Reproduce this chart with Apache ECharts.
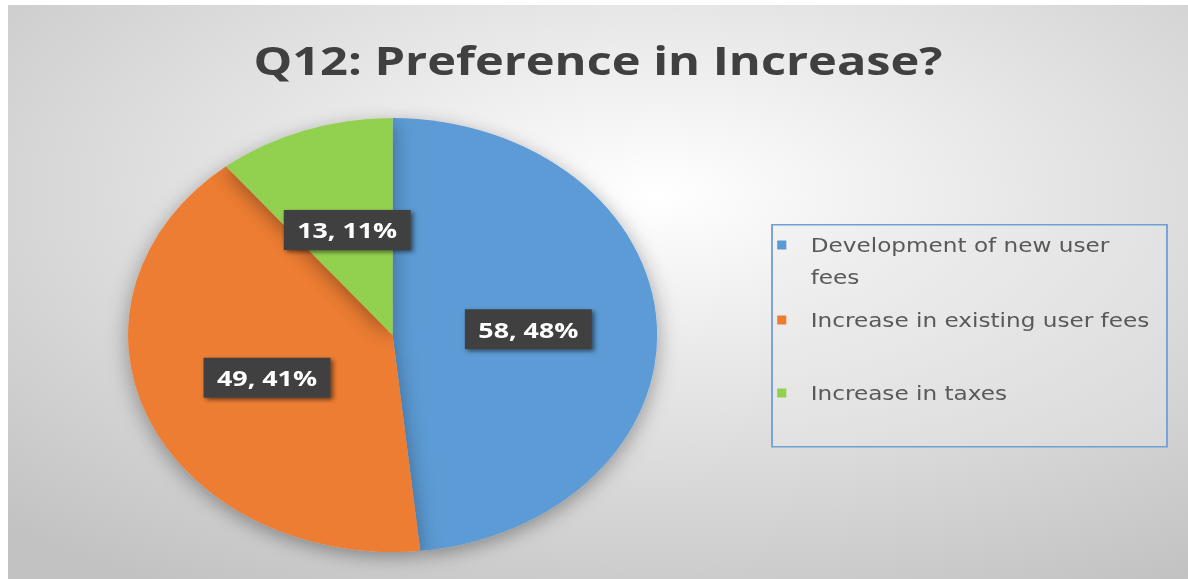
<!DOCTYPE html>
<html>
<head>
<meta charset="utf-8">
<script src="https://cdn.jsdelivr.net/npm/echarts@6/dist/echarts.min.js"></script>
<style>
  html, body { margin: 0; padding: 0; background: #fff; overflow: hidden; }
  body { width: 1188px; height: 579px; position: relative; }
  /* the reference picture is stretched sideways (pie is an ellipse), so draw
     at the natural width and stretch the whole chart with the same ratio */
  #chart {
    position: absolute; left: 8px; top: 5px;
    width: 968px; height: 574px;
    transform-origin: 0 0; transform: scaleX(1.219);
  }
</style>
</head>
<body>
<div id="chart"></div>
<script>
  const titleText = 'Q12: Preference in Increase?';
  const categories = ['Development of new user fees', 'Increase in existing user fees', 'Increase in taxes'];
  const counts = [58, 49, 13];
  const colors = ['#5b9bd5', '#ed7d31', '#92d050'];

  const legendTop = [192, 299, 372];   // one legend per entry, like the Excel layout
  const fontUi = "'Open Sans', sans-serif";

  const chart = echarts.init(document.getElementById('chart'), null, { renderer: 'svg' });

  // first entry wraps; a blank first line keeps the marker level with "Development"
  const legends = categories.map((name, i) => ({
    data: [name],
    left: 631, top: legendTop[i], padding: 0,
    orient: 'vertical', icon: 'rect', itemWidth: 7.5, itemHeight: 9,
    selectedMode: false,
    formatter: (n) => n === categories[0] ? ' \nDevelopment of new user\nfees' : n,
    textStyle: {
      color: '#595959', fontSize: 19, fontFamily: "'DejaVu Sans', sans-serif",
      lineHeight: 32, padding: [0, 0, 0, 15]
    }
  }));

  chart.setOption({
    animation: false,
    backgroundColor: {
      type: 'radial', x: 0.55, y: 0.33, r: 0.8,
      colorStops: [
        { offset: 0, color: '#ffffff' },
        { offset: 1, color: '#c2c2c2' }
      ]
    },
    title: {
      text: titleText, left: 'center', top: 29,
      textStyle: { color: '#404040', fontSize: 40, fontWeight: 'bold', fontFamily: fontUi }
    },
    legend: legends,
    graphic: [{
      type: 'rect', left: 626, top: 219, z: -1,
      shape: { width: 324, height: 222 },
      style: { fill: 'rgba(235,235,235,0.35)', stroke: '#6f9fd6', lineWidth: 1.5 }
    }],
    series: [{
      type: 'pie',
      center: [315.5, 330], radius: 217,
      startAngle: 90, clockwise: true,
      percentPrecision: 0,
      itemStyle: {
        borderWidth: 0,
        shadowBlur: 18, shadowColor: 'rgba(0,0,0,0.35)', shadowOffsetY: 5
      },
      label: {
        show: true, position: 'inside',
        formatter: '{c}, {d}%',
        color: '#ffffff', fontSize: 22, fontWeight: 'bold', fontFamily: fontUi,
        backgroundColor: '#404040', padding: [9, 11],
        shadowColor: 'rgba(0,0,0,0.55)', shadowBlur: 4, shadowOffsetX: 2, shadowOffsetY: 2
      },
      labelLine: { show: false },
      emphasis: { disabled: true },
      data: categories.map((name, i) => ({
        name, value: counts[i], itemStyle: { color: colors[i] }
      }))
    }]
  });
</script>
</body>
</html>
